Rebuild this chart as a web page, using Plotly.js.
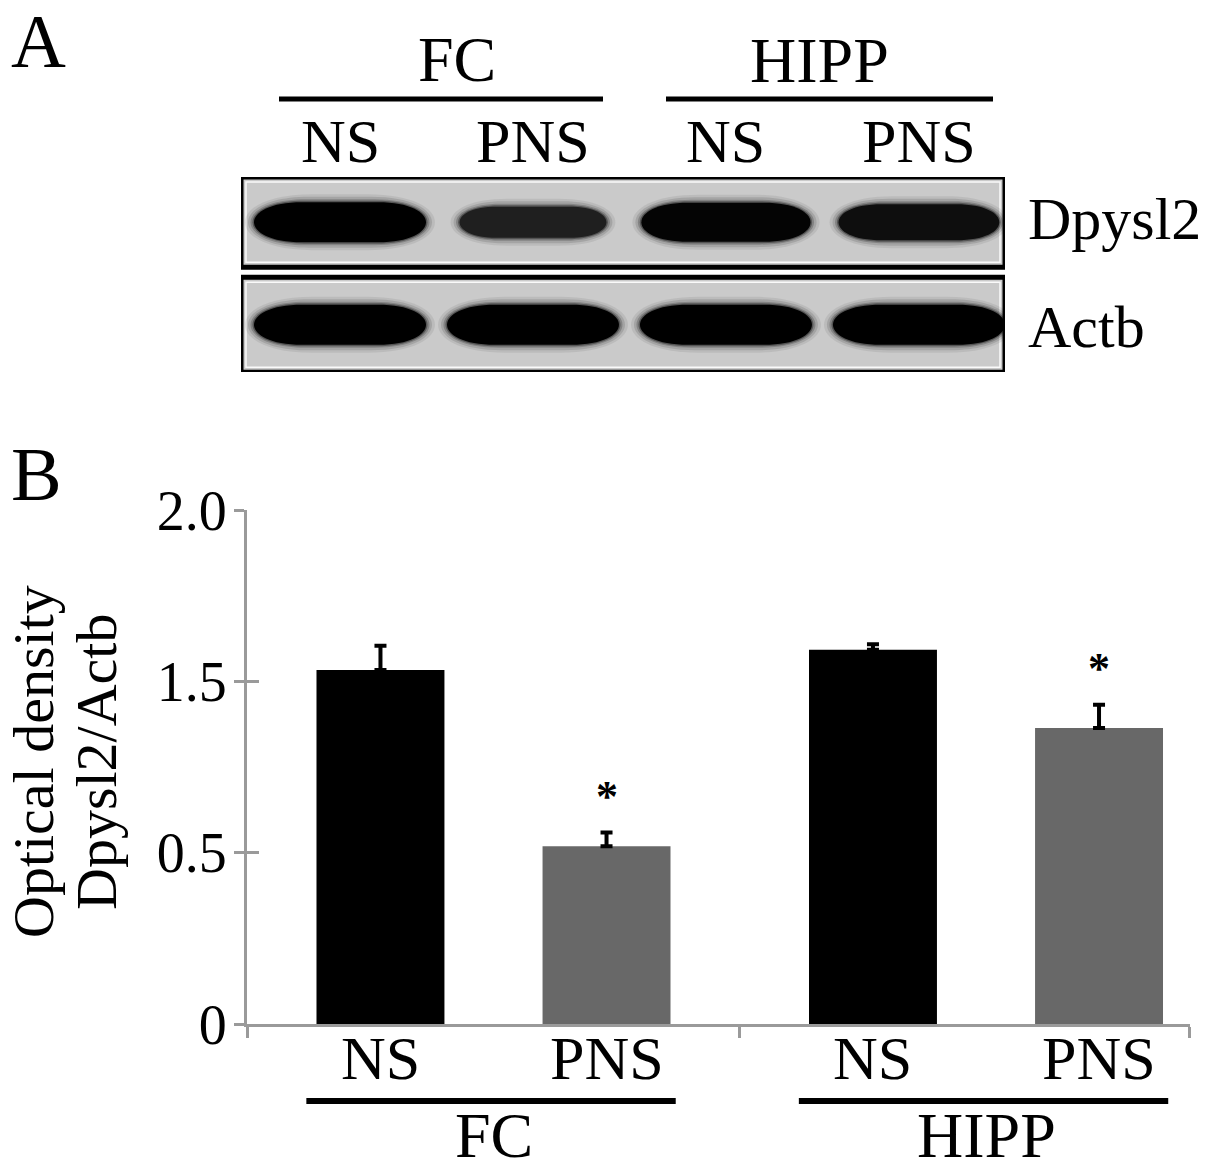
<!DOCTYPE html>
<html><head><meta charset="utf-8">
<script src="https://cdn.plot.ly/plotly-3.0.1.min.js"></script>
<style>html,body{margin:0;padding:0;background:#fff}</style>
</head><body><div id="chart" style="width:1205px;height:1172px"></div>
<script>
// ---------------- data ----------------
const regions = ["FC", "HIPP"];
const seriesNames = ["NS", "PNS"];
const nsMean = [1.033, 1.092];        // Optical density Dpysl2/Actb (axis units)
const nsErr = [0.071, 0.016];
const pnsMean = [0.519, 0.864];
const pnsErr = [0.040, 0.068];
const pnsSignificance = ["*", "*"];
const yTickVals = [0, 0.5, 1.0, 1.5];
const yTickText = ["0", "0.5", "1.5", "2.0"];
// western blot (panel A): relative band densities per lane
const blotLanes = ["NS", "PNS", "NS", "PNS"];
const blotProteins = ["Dpysl2", "Actb"];
const dpysl2Band = [1.0, 0.55, 0.95, 0.8];
const actbBand = [1.0, 1.0, 1.0, 1.0];

// ---------------- layout helpers ----------------
const W = 1205, H = 1172;
const px = x => x / W;
const py = y => 1 - y / H;
const FONT = "Liberation Serif, 'Times New Roman', serif";
const AX = "#9a9a9a";
const BARGAP = 0.082, BARGROUPGAP = 0.434;
const half = (1 - BARGAP) / 4;   // offset of each series from its group centre

function label(opts) {
  return Object.assign({showarrow: false, xanchor: "center", yanchor: "middle"}, opts);
}

// blot axes geometry
const bx0 = 241, bx1 = 1005, by0 = 177, by1 = 372;
const x2range = [-0.513, 3.446];
const y2range = [1.46, -0.44];
const ux = (bx1 - bx0) / (x2range[1] - x2range[0]);
const uy = (by1 - by0) / (y2range[0] - y2range[1]);

function capsule(cx, cy, wpx, hpx) {
  const hw = wpx / 2 / ux, hh = hpx / 2 / uy;
  const rx = Math.min(hpx * 1.2, wpx / 2) / ux;
  const xl = cx - hw, xr = cx + hw, yt = cy - hh, yb = cy + hh, k = rx / 3;
  return `M ${xl + rx},${yt} L ${xr - rx},${yt} C ${xr + k},${yt} ${xr + k},${yb} ${xr - rx},${yb} ` +
         `L ${xl + rx},${yb} C ${xl - k},${yb} ${xl - k},${yt} ${xl + rx},${yt} Z`;
}

const shapes = [];
const annotations = [];

// blot boxes
blotProteins.forEach((p, r) => {
  const y0 = r - 0.44 + (r === 1 ? -0.024 : 0), y1 = r + 0.44 + (r === 1 ? 0.022 : 0);
  shapes.push({type: "rect", xref: "x2", yref: "y2", x0: x2range[0], x1: x2range[1], y0: y0, y1: y1,
    line: {color: "#000", width: 5}, fillcolor: "#cacaca", layer: "above"});
  shapes.push({type: "rect", xref: "x2", yref: "y2", x0: x2range[0] + 5 / ux, x1: x2range[1] - 5 / ux,
    y0: y0 + 5 / uy, y1: y1 - 5 / uy, line: {color: "rgba(255,255,255,0.9)", width: 1.5}, fillcolor: "rgba(0,0,0,0)", layer: "above"});
  annotations.push(label({xref: "paper", yref: "y2", x: px(1026), y: r, xanchor: "left",
    text: p, font: {family: FONT, size: 60, color: "#000"}, yshift: r === 0 ? 3 : -2}));
});

// blot bands (soft edges built from several translucent layers)
const halo = [[18, 16, 0.07], [12, 11, 0.12], [7, 6, 0.2], [3, 3, 0.35]];
[dpysl2Band, actbBand].forEach((row, r) => {
  row.forEach((d, i) => {
    const w = 116 + 56 * d, h = 20 + 20 * d;
    const g = Math.round(70 * (1 - d));
    halo.forEach(([dw, dh, a]) => {
      shapes.push({type: "path", xref: "x2", yref: "y2", path: capsule(i, r, w + dw, h + dh),
        fillcolor: `rgba(0,0,0,${a})`, line: {width: 0}, layer: "above"});
    });
    shapes.push({type: "path", xref: "x2", yref: "y2", path: capsule(i, r, w, h),
      fillcolor: `rgb(${g},${g},${g})`, line: {width: 0}, layer: "above"});
  });
});

// panel A header
annotations.push(label({xref: "paper", yref: "paper", x: px(38), y: py(41), text: "A",
  font: {family: FONT, size: 76, color: "#000"}}));
annotations.push(label({xref: "paper", yref: "paper", x: px(457), y: py(60), text: regions[0],
  font: {family: FONT, size: 64, color: "#000"}}));
annotations.push(label({xref: "paper", yref: "paper", x: px(819), y: py(61), text: regions[1],
  font: {family: FONT, size: 64, color: "#000"}}));
shapes.push({type: "line", xref: "paper", yref: "paper", x0: px(279), x1: px(603), y0: py(99), y1: py(99),
  line: {color: "#000", width: 5}});
shapes.push({type: "line", xref: "paper", yref: "paper", x0: px(666), x1: px(993), y0: py(99), y1: py(99),
  line: {color: "#000", width: 5}});
blotLanes.forEach((l, i) => {
  annotations.push(label({xref: "x2", yref: "paper", x: i, y: py(141), text: l,
    font: {family: FONT, size: 62, color: "#000"}}));
});

// panel B
annotations.push(label({xref: "paper", yref: "paper", x: px(36), y: py(474), text: "B",
  font: {family: FONT, size: 76, color: "#000"}}));
annotations.push(label({xref: "paper", yref: "paper", x: px(33), y: py(762), text: "Optical density", textangle: -90,
  font: {family: FONT, size: 58, color: "#000"}}));
annotations.push(label({xref: "paper", yref: "paper", x: px(96), y: py(762), text: "Dpysl2/Actb", textangle: -90,
  font: {family: FONT, size: 58, color: "#000"}}));

const gIdx = regions.map((r, i) => i);
gIdx.forEach(i => {
  seriesNames.forEach((s, k) => {
    annotations.push(label({xref: "x", yref: "paper", x: i + (k === 0 ? -half : half), y: py(1058), text: s,
      font: {family: FONT, size: 62, color: "#000"}}));
  });
  if (pnsSignificance[i]) {
    annotations.push(label({xref: "x", yref: "y", x: i + half, y: pnsMean[i] + pnsErr[i], text: pnsSignificance[i],
      yshift: 36, font: {family: FONT, size: 44, color: "#000", weight: "bold"}}));
  }
  shapes.push({type: "line", xref: "x", yref: "paper", x0: i - 0.38, x1: i + 0.37, y0: py(1101), y1: py(1101),
    line: {color: "#000", width: 6}});
  annotations.push(label({xref: "x", yref: "paper", x: i, y: py(1135), text: regions[i],
    font: {family: FONT, size: 64, color: "#000"}}));
});

function errBar(arr) {
  return {type: "data", symmetric: false, array: arr, arrayminus: arr.map(() => 0),
          color: "#000", thickness: 4, width: 6};
}

const traces = [
  {type: "bar", name: seriesNames[0], x: gIdx, y: nsMean, marker: {color: "#000000", line: {width: 0}},
   error_y: errBar(nsErr), hoverinfo: "skip"},
  {type: "bar", name: seriesNames[1], x: gIdx, y: pnsMean, marker: {color: "#686868", line: {width: 0}},
   error_y: errBar(pnsErr), hoverinfo: "skip"},
  {type: "scatter", x: [0], y: [0], yaxis: "y3", mode: "markers", marker: {opacity: 0}, hoverinfo: "skip", showlegend: false},
  {type: "scatter", x: [0], y: [0], xaxis: "x2", yaxis: "y2", mode: "markers", marker: {opacity: 0}, hoverinfo: "skip", showlegend: false}
];

const layout = {
  width: W, height: H,
  margin: {l: 0, r: 0, t: 0, b: 0},
  paper_bgcolor: "#fff", plot_bgcolor: "rgba(0,0,0,0)",
  showlegend: false,
  barmode: "group", bargap: BARGAP, bargroupgap: BARGROUPGAP,
  xaxis: {domain: [px(247), px(1190)], range: [-0.5005, 1.4142], anchor: "y",
    showline: true, linecolor: AX, linewidth: 3, ticks: "outside", tickvals: [-0.5, 0.5, 1.4137],
    ticklen: 11, tickwidth: 3, tickcolor: AX, showticklabels: false, showgrid: false, zeroline: false},
  yaxis: {domain: [py(1024), py(510)], range: [0, 1.5], anchor: "x",
    showline: true, linecolor: AX, linewidth: 3, ticks: "outside", ticklen: 10, tickwidth: 3, tickcolor: AX,
    tickvals: yTickVals, ticktext: yTickText, ticklabelstandoff: -4,
    tickfont: {family: FONT, size: 56, color: "#000"}, showgrid: false, zeroline: false},
  yaxis3: {overlaying: "y", range: [0, 1.5], anchor: "x", side: "left", showline: false,
    ticks: "inside", ticklen: 12, tickwidth: 3, tickcolor: AX, tickvals: yTickVals,
    showticklabels: false, showgrid: false, zeroline: false},
  xaxis2: {domain: [px(bx0), px(bx1)], range: x2range, anchor: "y2", visible: false},
  yaxis2: {domain: [py(by1), py(by0)], range: y2range, anchor: "x2", visible: false},
  shapes: shapes,
  annotations: annotations
};

Plotly.newPlot("chart", traces, layout, {displayModeBar: false, staticPlot: true});
</script>
</body></html>
